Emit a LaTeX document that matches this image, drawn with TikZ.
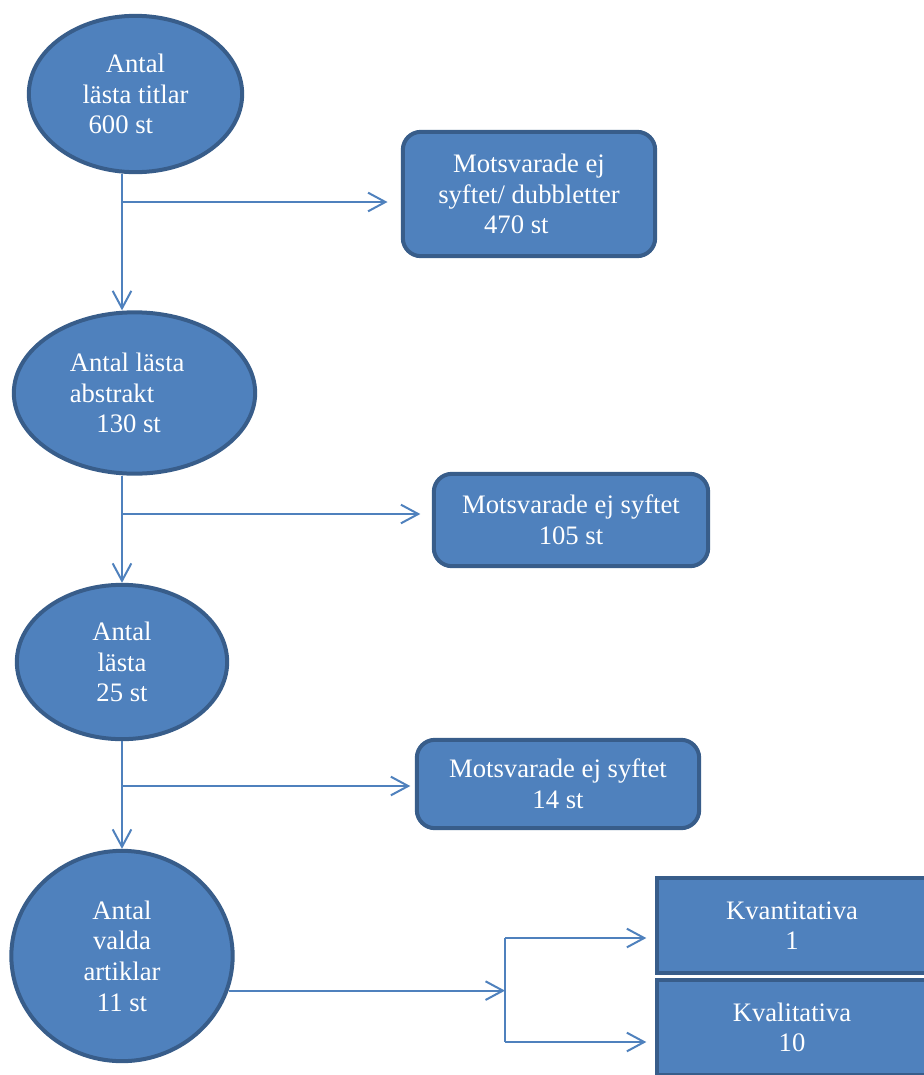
\documentclass[tikz,border=0pt]{standalone}
\usepackage{fontspec}
\setmainfont{Liberation Serif}
\usetikzlibrary{arrows.meta,shapes.geometric}
\definecolor{boxblue}{HTML}{4F81BD}
\definecolor{boxedge}{HTML}{385D8A}
\begin{document}
\begin{tikzpicture}[x=0.75pt,y=-0.75pt]
	    \tikzset{>={Straight Barb[length=13pt,width=14pt]}}
	    \tikzset{blob/.style={ellipse,draw=boxedge,fill=boxblue,line width=3pt,text=white,
	        font=\fontsize{20}{23}\selectfont,align=center,inner sep=0pt}}
	    \tikzset{card/.style={rectangle,rounded corners=13.5pt,draw=boxedge,fill=boxblue,line width=3pt,
	        text=white,font=\fontsize{20}{23}\selectfont,align=center,inner sep=0pt}}
	    \tikzset{link/.style={->,draw=boxblue,line width=1.5pt}}
	    \useasboundingbox (0,0) rectangle (924,1075);
	    \clip (0,0) rectangle (924,1075);
	    \node[blob,minimum width=160pt,minimum height=117.25pt] (e1) at (135.5,94) {Antal\\lästa titlar\\600 st\hspace*{22pt}};
	    \node[blob,minimum width=181pt,minimum height=121pt,align=left] (e2) at (134.5,393) {Antal lästa\hspace*{11pt}\\abstrakt\\\hspace*{20pt}130 st};
	    \node[blob,minimum width=157.75pt,minimum height=115.75pt] (e3) at (122,662) {Antal\\lästa\\25 st};
	    \node[blob,minimum width=166pt,minimum height=157.75pt] (e4) at (122,956) {Antal\\valda\\artiklar\\11 st};
	    \node[card,minimum width=189.25pt,minimum height=93.25pt] (m1) at (529,194) {Motsvarade ej\\syftet/ dubbletter\\470 st\hspace*{19pt}};
	    \node[card,minimum width=205.75pt,minimum height=69.25pt] (m2) at (571,520) {Motsvarade ej syftet\\105 st};
	    \node[card,minimum width=211.75pt,minimum height=66.25pt] (m3) at (558,784) {Motsvarade ej syftet\\14 st};
	    \node[card,rounded corners=0pt,minimum width=202.75pt,minimum height=71.5pt] (k1) at (792,925.5) {Kvantitativa\\1};
	    \node[card,rounded corners=0pt,minimum width=202.75pt,minimum height=71.5pt] (k2) at (792,1027.5) {Kvalitativa\\10};
	    \coordinate (b1) at (122,202);
	    \coordinate (b2) at (122,514);
	    \coordinate (b3) at (122,786);
	    \coordinate (f) at (505,991);
	    \coordinate (f1) at (505,938);
	    \coordinate (f2) at (505,1042);
	    \draw[link] (e1.south -| b1) -- (e2.north -| b1);
	    \draw[link] (e2.south -| b1) -- (e3.north);
	    \draw[link] (e3.south) -- (e4.north);
	    \draw[link,shorten >=10pt] (b1) -- (b1 -| m1.west);
	    \draw[link,shorten >=8.6pt] (b2) -- (b2 -| m2.west);
	    \draw[link,shorten >=3.4pt] (b3) -- (b3 -| m3.west);
	    \draw[link] (e4.-18) -- (e4.-18 -| f);
	    \draw[draw=boxblue,line width=1.5pt] (f1) -- (f2);
	    \draw[link,shorten >=6.4pt] (f1) -- (f1 -| k1.west);
	    \draw[link,shorten >=6.4pt] (f2) -- (f2 -| k2.west);
	    \end{tikzpicture}
\end{document}
